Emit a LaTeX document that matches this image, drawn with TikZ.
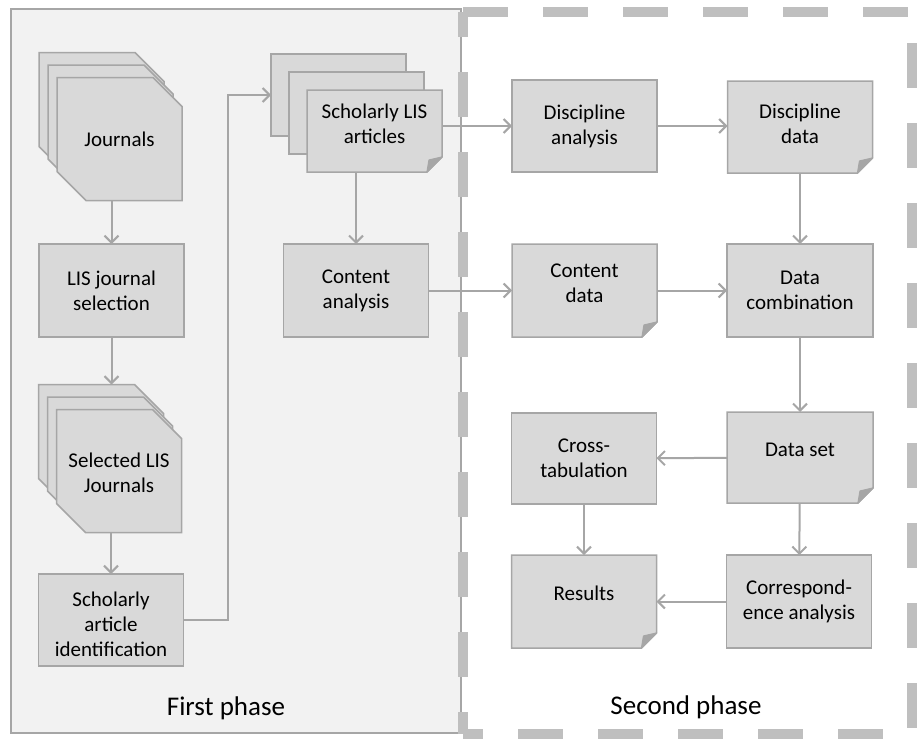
\documentclass[tikz,border=0pt]{standalone}
\usepackage{fontspec}
\setmainfont{Carlito}
\usetikzlibrary{positioning,calc,arrows.meta}

\definecolor{panelfill}{HTML}{F2F2F2}
\definecolor{panelline}{HTML}{A6A6A6}
\definecolor{boxfill}{HTML}{D9D9D9}
\definecolor{boxline}{HTML}{A6A6A6}
\definecolor{foldfill}{HTML}{A6A6A6}
\definecolor{arrowgray}{HTML}{A6A6A6}
\definecolor{dashgray}{HTML}{BFBFBF}

\pgfdeclarelayer{panel}
\pgfdeclarelayer{sheets}
\pgfsetlayers{panel,sheets,main}

\newcommand{\boxfont}{\fontsize{21}{25}\selectfont}
\newcommand{\phasefont}{\fontsize{27}{31}\selectfont}
% text block moved up or down inside its box
\newcommand{\lifted}[2]{\raisebox{#1}[\height][\depth]{\begin{tabular}{@{}c@{}}#2\end{tabular}}}

% outlines drawn round the named nodes
\newcommand{\rectsheet}[1]{\filldraw[outline] (#1.north west) rectangle (#1.south east);}
\newcommand{\docsheet}[1]{%
  \filldraw[outline] (#1.north west) -- (#1.north east) -- ([yshift=15pt]#1.south east)
    -- ([xshift=-15pt]#1.south east) -- (#1.south west) -- cycle;
  \filldraw[fold] ([yshift=15pt]#1.south east) -- ([xshift=-13pt,yshift=12pt]#1.south east)
    -- ([xshift=-15pt]#1.south east) -- cycle;}
\newcommand{\cutsheet}[1]{%
  \filldraw[outline] (#1.north west) -- ([xshift=-29pt]#1.north east) -- ([yshift=-29pt]#1.north east)
    -- (#1.south east) -- ([xshift=29pt]#1.south west) -- ([yshift=29pt]#1.south west) -- cycle;}

\tikzset{
  box/.style={minimum width=145pt, minimum height=93pt, inner sep=2pt, outer sep=0pt,
    align=center, font=\boxfont},
  stack/.style={box, minimum width=125pt, minimum height=123pt},
  outline/.style={draw=boxline, fill=boxfill, line width=1.5pt},
  fold/.style={draw=boxline, fill=foldfill, line width=1.2pt, line join=round},
  frame/.style={draw=dashgray, line width=10pt, dash pattern=on 45pt off 35pt},
  flow/.style={draw=arrowgray, line width=2pt,
    -{Straight Barb[length=7pt,width=14pt]}},
  phase/.style={font=\phasefont, inner sep=0pt},
}

\begin{document}
\begin{tikzpicture}[x=1pt, y=-1pt]
\useasboundingbox (0,0) rectangle (920,739);

\node[stack] (jour) at (119.5,139) {Journals};
\node[box] (lis) at (111.5,290.5) {LIS journal\\selection};
\node[stack] (sel) at (119,471) {\lifted{-4pt}{Selected LIS\\Journals}};
\node[box, minimum height=92pt] (sai) at (111,620) {\lifted{-6pt}{Scholarly\\article\\identification}};

\node[box, minimum width=135pt, minimum height=82pt] (sla) at (374.5,131) {\lifted{5.5pt}{Scholarly LIS\\articles}};
\node[box] (ca) at (356,290.5) {Content\\analysis};

\node[box, minimum height=92pt] (dan) at (584.5,126) {Discipline\\analysis};
\node[box, minimum height=92pt] (dd) at (800,127) {\lifted{1.5pt}{Discipline\\data}};
\node[box] (cd) at (584.5,290.5) {\lifted{6pt}{Content\\data}};
\node[box, minimum width=146pt] (dc) at (800,290.5) {Data\\combination};
\node[box, minimum width=146pt, minimum height=91pt] (ds) at (800,457.5) {\lifted{6pt}{Data set}};
\node[box, minimum height=91pt] (ct) at (584,458.5) {Cross-\\tabulation};
\node[box] (res) at (584,601.5) {\lifted{6pt}{Results}};
\node[box] (corr) at (799,601.5) {Correspond-\\ence analysis};

\node[phase] (p1) at (226,708) {First phase};
\node[phase] (p2) at (686,707) {Second phase};

\begin{pgfonlayer}{panel}
  \filldraw[fill=panelfill, draw=panelline, line width=1.5pt] (11,9) rectangle (461,733);
  \draw[frame] (463,12) -- (912,12);
  \draw[frame, dash phase=49pt] (912,12) -- (912,734);
  \draw[frame, dash phase=20pt] (463,12) -- (463,734);
  \draw[frame, dash phase=25pt] (463,734) -- (912,734);
\end{pgfonlayer}

\begin{pgfonlayer}{sheets}
  \foreach \k in {2,1} {
    \begin{scope}[transform canvas={shift={({-9pt*\k},{12.5pt*\k})}}]
      \cutsheet{jour}
      \cutsheet{sel}
    \end{scope}
    \begin{scope}[transform canvas={shift={({-18pt*\k},{18pt*\k})}}]
      \rectsheet{sla}
    \end{scope}
  }
  \cutsheet{jour}
  \cutsheet{sel}
  \docsheet{sla}
  \foreach \n in {lis,sai,ca,dan,dc,ct,corr} {\rectsheet{\n}}
  \foreach \n in {dd,cd,ds,res} {\docsheet{\n}}
\end{pgfonlayer}

\coordinate (selback) at ($(sel.north)+(0,-25)$);
\coordinate (slaback) at ($(sla.west)+(-36,0)$);
\coordinate (bend) at (228,95);

\draw[flow] (jour.south -| lis.north) -- (lis.north);
\draw[flow] (lis.south) -- (lis.south |- selback);
\draw[flow] (sel.south -| sai.north) -- (sai.north);
\draw[flow] (sai.east) -| (bend) -- (bend -| slaback);
\draw[flow] (dan.west -| sla.east) -- (dan.west);
\draw[flow] (sla.south -| ca.north) -- (ca.north);
\draw[flow] (dan.east) -- (dan.east -| dd.west);
\draw[flow] (dd) -- (dc);
\draw[flow] (ca) -- (cd);
\draw[flow] (cd) -- (dc);
\draw[flow] (dc) -- (ds);
\draw[flow] (ds) -- (ct);
\draw[flow] (ct) -- (res);
\draw[flow] (ds) -- (corr);
\draw[flow] (corr) -- (res);
\end{tikzpicture}
\end{document}
